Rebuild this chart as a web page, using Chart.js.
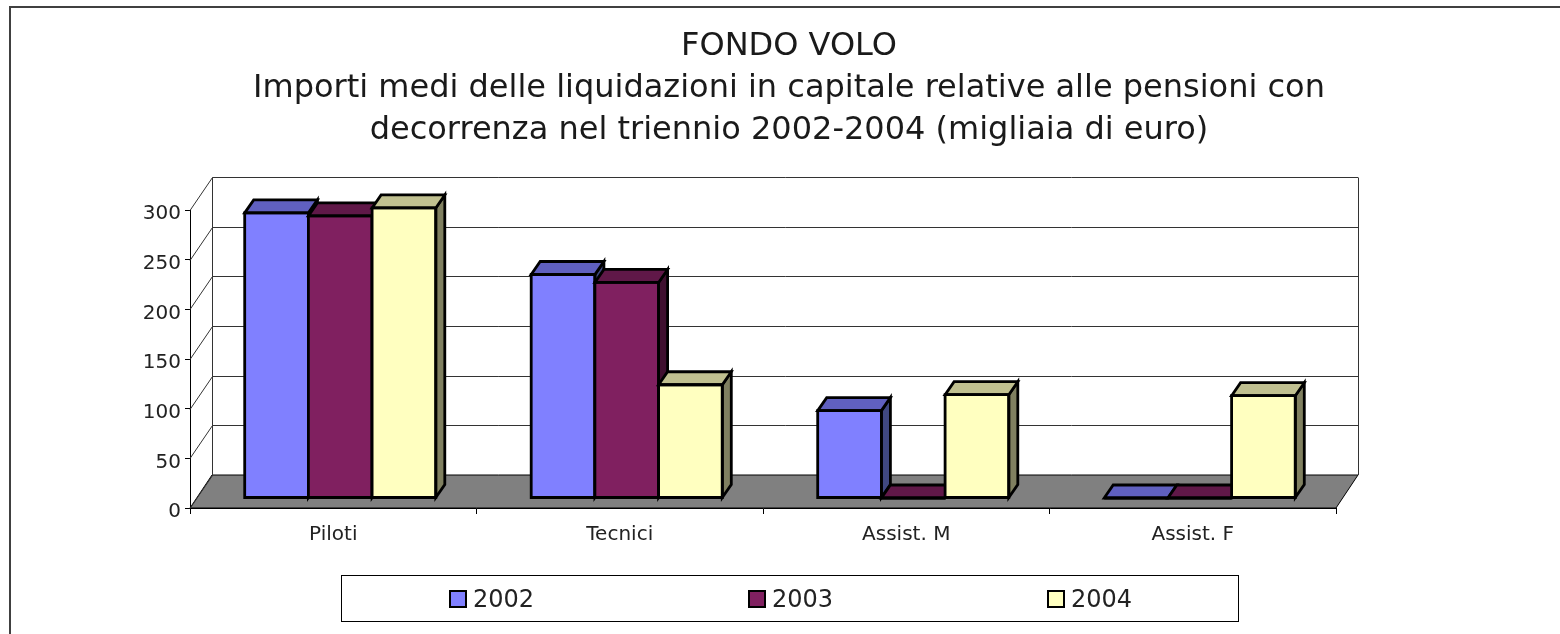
<!DOCTYPE html>
<html>
<head>
<meta charset="utf-8">
<title>Fondo Volo</title>
<script src="https://cdn.jsdelivr.net/npm/chart.js@4/dist/chart.umd.min.js"></script>
<style>
  html, body { margin: 0; padding: 0; background: #fff; overflow: hidden; }
  canvas { display: block; }
</style>
</head>
<body>
<canvas id="grafico" width="1560" height="634"></canvas>
<script>
// dati
const categorie = ['Piloti', 'Tecnici', 'Assist. M', 'Assist. F'];
const anni = ['2002', '2003', '2004'];
const valori2002 = [287, 225, 88, 0];
const valori2003 = [284, 217, 0, 0];
const valori2004 = [292, 114, 104, 103];
const titolo = [
  'FONDO VOLO',
  'Importi medi delle liquidazioni in capitale relative alle pensioni con',
  'decorrenza nel triennio 2002-2004 (migliaia di euro)'
];

const FONT = '"DejaVu Sans", Verdana, sans-serif';
const colFronte = ['#8080ff', '#802060', '#ffffc0'];
const colSopra  = ['#6060c0', '#601848', '#c0c090'];
const colLato   = ['#404880', '#401030', '#808060'];

// prospettiva finta 3D
const PARETE = { dx: 22, dy: -33 };
const BARRA_OFF = { dx: 7, dy: -10 };
const BARRA_PROF = { dx: 9, dy: -13 };

function poligono(ctx, punti, fill, stroke, lw) {
  ctx.beginPath();
  punti.forEach(([x, y], i) => i ? ctx.lineTo(x, y) : ctx.moveTo(x, y));
  ctx.closePath();
  if (fill) { ctx.fillStyle = fill; ctx.fill(); }
  if (stroke) { ctx.strokeStyle = stroke; ctx.lineWidth = lw; ctx.stroke(); }
}

const sfondo3d = {
  id: 'sfondo3d',
  afterLayout(chart) {
    // le etichette di DejaVu con baseline middle stanno troppo in alto
    chart.scales.y.getLabelItems().forEach(it => { it.options.translation[1] += 4; });
  },
  beforeDatasetsDraw(chart) {
    const { ctx, scales: { x, y } } = chart;
    const L = x.left, R = x.right, zero = y.getPixelForValue(0);
    ctx.save();
    // cornice esterna (solo sopra e a sinistra, il resto e' tagliato)
    ctx.strokeStyle = '#404040';
    ctx.lineWidth = 2;
    ctx.beginPath();
    ctx.moveTo(10, 634); ctx.lineTo(10, 7); ctx.lineTo(1560, 7);
    ctx.stroke();

    // pavimento
    poligono(ctx, [[L, zero], [R, zero], [R + PARETE.dx, zero + PARETE.dy], [L + PARETE.dx, zero + PARETE.dy]], '#808080', '#000', 1);

    // griglia sulla parete di fondo
    ctx.lineWidth = 1;
    ctx.strokeStyle = '#333';
    y.ticks.forEach(t => {
      const py = Math.round(y.getPixelForValue(t.value)) + 0.5;
      ctx.beginPath();
      ctx.moveTo(L, py);
      ctx.lineTo(L + PARETE.dx + 0.5, py + PARETE.dy);
      if (t.value > 0) ctx.lineTo(R + PARETE.dx, py + PARETE.dy);
      ctx.stroke();
    });
    const alto = Math.round(y.getPixelForValue(300)) + 0.5 + PARETE.dy;
    ctx.beginPath();
    ctx.moveTo(L + PARETE.dx + 0.5, alto);
    ctx.lineTo(L + PARETE.dx + 0.5, zero + PARETE.dy);
    ctx.moveTo(R + PARETE.dx + 0.5, alto);
    ctx.lineTo(R + PARETE.dx + 0.5, zero + PARETE.dy);
    ctx.stroke();

    // barre: serie nell'ordine 2002 -> 2004, ognuna copre il lato della precedente
    chart.getSortedVisibleDatasetMetas().forEach(meta => {
      const i = meta.index;
      ctx.save();
      ctx.translate(BARRA_OFF.dx, BARRA_OFF.dy);
      meta.controller.draw();
      meta.data.forEach(el => {
        const sx = el.x - el.width / 2, dx = el.x + el.width / 2, top = el.y, base = el.base;
        const { dx: px, dy: py } = BARRA_PROF;
        poligono(ctx, [[dx, top], [dx + px, top + py], [dx + px, base + py], [dx, base]], colLato[i], '#000', 2.8);
        poligono(ctx, [[sx, top], [sx + px, top + py], [dx + px, top + py], [dx, top]], colSopra[i], '#000', 2.8);
        poligono(ctx, [[sx, top], [dx, top], [dx, base], [sx, base]], null, '#000', 2.8);
      });
      ctx.restore();
    });
    ctx.restore();
    return false;
  },
  afterDraw(chart) {
    // legenda incorniciata con spaziatura larga
    const { ctx } = chart;
    ctx.save();
    ctx.strokeStyle = '#000';
    ctx.lineWidth = 1;
    ctx.strokeRect(341.5, 575.5, 897, 46);
    ctx.font = '24px ' + FONT;
    ctx.textBaseline = 'middle';
    chart.data.datasets.forEach((ds, i) => {
      const x = 450 + i * 299;
      ctx.fillStyle = ds.backgroundColor;
      ctx.fillRect(x, 591, 16, 16);
      ctx.lineWidth = 2;
      ctx.strokeRect(x, 591, 16, 16);
      ctx.fillStyle = '#222';
      ctx.fillText(ds.label, x + 23, 601);
    });
    ctx.restore();
  }
};

new Chart(document.getElementById('grafico'), {
  type: 'bar',
  data: {
    labels: categorie,
    datasets: [
      { label: anni[0], data: valori2002, backgroundColor: colFronte[0] },
      { label: anni[1], data: valori2003, backgroundColor: colFronte[1] },
      { label: anni[2], data: valori2004, backgroundColor: colFronte[2] }
    ]
  },
  options: {
    responsive: false,
    animation: false,
    layout: { padding: { left: 18, right: 0, top: 0, bottom: 0 } },
    categoryPercentage: 0.667,
    barPercentage: 1,
    borderWidth: 0,
    plugins: {
      legend: { display: false },
      tooltip: { enabled: false },
      title: {
        display: true,
        text: titolo,
        color: '#1a1a1a',
        font: { family: FONT, size: 32, weight: 'normal', lineHeight: 1.3125 },
        padding: { top: 26, bottom: 58 }
      }
    },
    scales: {
      x: {
        grid: { drawOnChartArea: false, drawTicks: true, tickLength: 6, color: '#000' },
        border: { color: '#000', width: 1 },
        ticks: { color: '#222', font: { family: FONT, size: 20 }, padding: 9, maxRotation: 0 },
        afterFit(s) { s.height = 126; }
      },
      y: {
        min: 0,
        max: 300,
        grid: { drawOnChartArea: false, drawTicks: true, tickLength: 5, color: '#000' },
        border: { color: '#000', width: 1 },
        ticks: { stepSize: 50, color: '#222', font: { family: FONT, size: 20 }, padding: 4 },
        afterFit(s) { s.width = 172; }
      },
      margineDx: {
        position: 'right',
        grid: { display: false },
        border: { display: false },
        ticks: { display: false },
        afterFit(s) { s.width = 224; }
      }
    }
  },
  plugins: [sfondo3d]
});
</script>
</body>
</html>
